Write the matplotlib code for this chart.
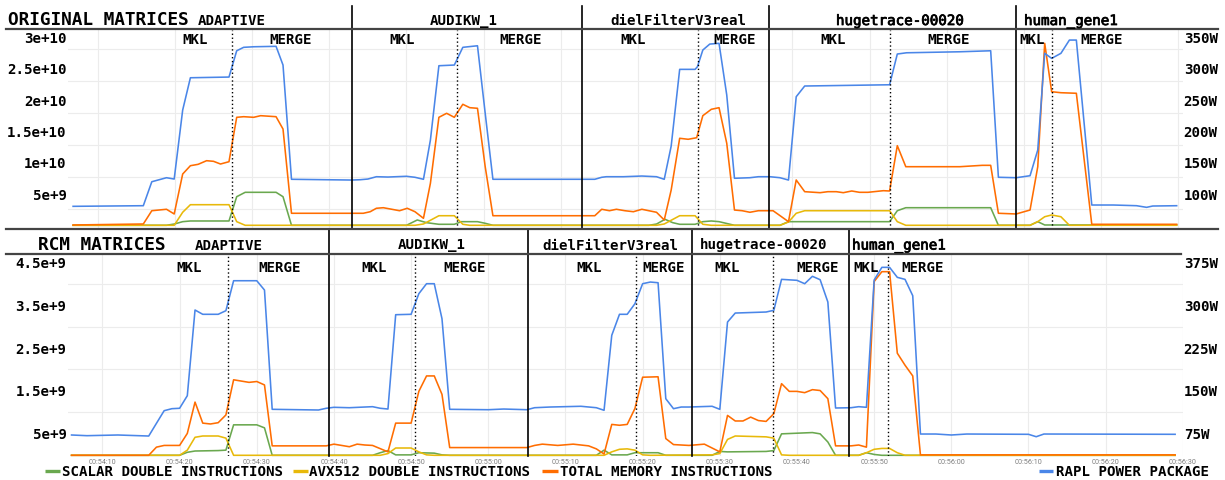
import numpy as np
import matplotlib
matplotlib.use("Agg")
import matplotlib.pyplot as plt
from matplotlib.lines import Line2D
import matplotlib.patheffects as pe

# ---------------- DATA ----------------
# time in seconds after 00:54:00 ; instruction counts in units of 1e9 ; power in W

# ORIGINAL MATRICES
top_scalar = [(6.2, 0), (18.3, 0), (19.3, 0.2), (20.4, 0.58), (21.4, 0.69), (26.4, 0.69), (27.4, 4.57),
              (28.5, 5.27), (32.5, 5.27), (33.4, 4.57), (34.5, 0), (49.4, 0), (50.8, 0.85), (52.0, 0.42),
              (53.6, 0.16), (55.6, 0.16), (56.5, 0.58), (58.6, 0.58), (59.6, 0.32), (60.6, 0), (80.8, 0),
              (81.8, 0.2), (82.9, 0.96), (83.9, 0.42), (84.8, 0.16), (86.8, 0.16), (87.8, 0.58), (88.9, 0.69),
              (89.9, 0.58), (91.9, 0), (97.8, 0), (98.9, 0.58), (112.0, 0.58), (113.0, 2.33), (114.1, 2.81),
              (125.1, 2.81), (126.1, 0), (130.2, 0), (131.2, 0.58), (132.1, 0.05), (149.2, 0.05)]
top_avx = [(6.2, 0), (19.3, 0), (20.4, 2.08), (21.4, 3.29), (26.4, 3.29), (27.4, 0.58), (28.5, 0), (50.5, 0),
           (51.6, 0.21), (53.6, 1.53), (55.6, 1.53), (56.7, 0.16), (57.6, 0), (81.8, 0), (82.8, 0.21),
           (84.8, 1.53), (86.8, 1.53), (87.8, 0.16), (88.9, 0), (97.8, 0), (98.9, 0.53), (99.9, 1.92),
           (101.0, 2.33), (112.0, 2.33), (113.0, 0.58), (114.1, 0), (130.2, 0), (131.2, 0.58), (132.1, 1.37),
           (133.0, 1.65), (134.2, 1.37), (135.3, 0), (149.2, 0)]
top_mem = [(6.2, 0.05), (15.3, 0.21), (16.4, 2.33), (18.3, 2.56), (19.3, 1.81), (20.4, 8.19), (21.4, 9.52),
           (22.4, 9.74), (23.5, 10.32), (24.4, 10.22), (25.3, 9.79), (26.4, 10.16), (27.4, 17.25), (28.3, 17.35),
           (29.6, 17.25), (30.5, 17.51), (32.5, 17.35), (33.4, 15.38), (34.5, 1.92), (43.8, 1.92), (44.7, 2.17),
           (45.5, 2.72), (46.4, 2.81), (47.5, 2.56), (48.5, 2.33), (49.5, 2.72), (50.5, 2.17), (51.6, 1.12),
           (52.5, 6.71), (53.6, 17.25), (54.6, 17.89), (55.6, 17.25), (56.7, 19.33), (57.6, 18.79), (58.6, 18.69),
           (59.6, 9.36), (60.6, 1.53), (73.8, 1.53), (74.7, 2.56), (75.7, 2.33), (76.6, 2.56), (77.7, 2.33),
           (78.8, 2.17), (79.9, 2.56), (80.8, 2.33), (81.8, 2.08), (82.8, 0.85), (83.7, 5.64), (84.8, 13.90),
           (85.9, 13.74), (87.0, 13.99), (87.8, 17.51), (88.9, 18.53), (89.9, 18.79), (90.9, 13.10), (91.9, 2.44),
           (92.9, 2.33), (93.9, 2.08), (95.0, 2.33), (96.9, 2.33), (98.9, 0.58), (99.9, 7.24), (101.0, 5.37),
           (103.0, 5.21), (104.0, 5.37), (105.1, 5.37), (106.0, 5.21), (107.1, 5.48), (108.1, 5.27),
           (109.2, 5.27), (111.2, 5.53), (112.0, 5.48), (113.0, 12.72), (114.1, 9.36), (121.1, 9.36),
           (124.0, 9.58), (125.1, 9.58), (126.1, 1.92), (128.4, 1.81), (130.2, 2.44), (131.2, 9.36),
           (132.1, 29.07), (133.0, 21.34), (134.2, 21.18), (136.2, 21.09), (138.2, 0.16), (149.2, 0.16)]
top_rapl = [(6.2, 80.3), (15.3, 81.3), (16.4, 119.6), (18.3, 126.0), (19.3, 123.9), (20.4, 234.1), (21.4, 285.7),
            (26.4, 286.8), (27.4, 328.8), (28.3, 334.3), (29.6, 335.2), (32.5, 335.9), (33.4, 306.0),
            (34.5, 123.5), (42.3, 122.3), (43.4, 122.8), (44.4, 123.9), (45.5, 127.6), (47.0, 127.1),
            (49.4, 128.3), (50.5, 126.7), (51.6, 123.5), (52.5, 186.2), (53.6, 304.9), (55.6, 306.0),
            (56.7, 334.3), (58.6, 336.8), (59.6, 228.9), (60.6, 123.5), (73.8, 123.5), (74.7, 126.7),
            (75.3, 127.6), (77.5, 127.6), (79.9, 128.7), (81.8, 127.6), (82.8, 123.5), (83.7, 176.6),
            (84.8, 299.1), (86.8, 299.1), (87.1, 303.3), (87.8, 330.0), (88.7, 339.5), (89.9, 340.7),
            (90.9, 258.1), (91.9, 125.1), (93.9, 126.0), (95.0, 127.6), (96.5, 127.6), (97.8, 126.0),
            (98.9, 122.3), (99.9, 255.4), (101.0, 272.5), (112.0, 274.5), (113.0, 323.6), (114.2, 325.6),
            (121.1, 327.2), (125.1, 328.8), (126.1, 126.7), (128.4, 126.0), (130.2, 129.2), (131.2, 170.3),
            (132.1, 324.7), (133.0, 316.7), (134.2, 324.7), (135.3, 345.9), (136.2, 345.9), (138.2, 82.4),
            (141.0, 82.4), (144.0, 81.3), (145.3, 78.7), (146.1, 80.8), (149.2, 81.3)]
top_bounds = [42.33, 72.13, 96.35, 128.35]          # matrix boundaries
top_switch = [26.79, 55.93, 87.15, 112.02, 133.01]  # MKL -> MERGE

# RCM MATRICES
bot_scalar = [(6, 0), (20, 0), (21, 0.07), (22, 0.10), (25, 0.11), (26, 0.12), (27, 0.71), (30, 0.71),
              (31, 0.64), (32, 0), (45, 0), (46, 0.06), (47, 0.11), (48, 0.01), (50, 0.01), (51, 0.06),
              (53, 0.05), (54, 0.01), (55, 0), (74, 0), (75, 0.12), (76, 0.01), (78, 0.01), (79, 0.06),
              (82, 0.06), (83, 0), (89, 0), (90, 0.09), (91, 0.08), (96, 0.09), (97, 0.11), (98, 0.50),
              (102, 0.53), (103, 0.50), (104, 0.31), (105, 0), (108, 0), (109, 0.06), (110, 0.02), (111, 0),
              (149, 0)]
bot_avx = [(6, 0), (20, 0), (21, 0.12), (22, 0.42), (23, 0.45), (25, 0.45), (26, 0.40), (27, 0), (46, 0),
           (47, 0.04), (48, 0.17), (50, 0.17), (51, 0.08), (52, 0.01), (53, 0), (75, 0), (76, 0.08),
           (77, 0.14), (78, 0.15), (79, 0.12), (80, 0.01), (81, 0), (89, 0.01), (90, 0.04), (91, 0.37),
           (92, 0.45), (96, 0.43), (97, 0.40), (98, 0.01), (99, 0), (108, 0), (109, 0.06), (110, 0.14),
           (111, 0.16), (112, 0.16), (113, 0.06), (114, 0), (149, 0)]
bot_mem = [(6, 0), (16, 0), (17, 0.19), (18, 0.23), (20, 0.23), (21, 0.51), (22, 1.24), (23, 0.75), (24, 0.73),
           (25, 0.76), (26, 0.94), (27, 1.76), (28, 1.73), (29, 1.70), (30, 1.72), (31, 1.64), (32, 0.22),
           (39, 0.22), (40, 0.26), (41, 0.23), (42, 0.20), (43, 0.26), (44, 0.24), (45, 0.23), (47, 0.08),
           (48, 0.75), (50, 0.75), (51, 1.49), (52, 1.85), (53, 1.85), (54, 1.42), (55, 0.18), (65, 0.18),
           (66, 0.23), (67, 0.26), (69, 0.23), (71, 0.26), (73, 0.22), (74, 0.15), (75, 0.03), (76, 0.72),
           (77, 0.70), (78, 0.72), (79, 1.09), (80, 1.82), (82, 1.83), (83, 0.39), (84, 0.25), (86, 0.23),
           (88, 0.26), (90, 0.08), (91, 0.93), (92, 0.80), (93, 0.80), (94, 0.89), (95, 0.81), (96, 0.79),
           (97, 0.97), (98, 1.67), (99, 1.49), (100, 1.49), (101, 1.46), (102, 1.53), (103, 1.51), (104, 1.32),
           (105, 0.22), (107, 0.22), (108, 0.24), (109, 0.19), (110, 4.05), (111, 4.28), (112, 4.28),
           (113, 2.38), (114, 2.10), (115, 1.85), (116, 0.01), (149, 0.01)]
bot_rapl = [(6, 73.0), (8, 71.8), (12, 73.0), (16, 71.2), (17, 93.4), (18, 115.5), (19, 119.0), (20, 119.7),
            (21, 141.7), (22, 291.5), (23, 284.0), (25, 284.0), (26, 290.3), (27, 342.7), (30, 342.7),
            (31, 326.4), (32, 117.9), (38, 116.7), (39, 119.7), (40, 121.4), (42, 120.7), (45, 122.5),
            (46, 119.7), (47, 118.4), (48, 283.3), (50, 284.0), (51, 320.0), (52, 337.5), (53, 337.5),
            (54, 276.3), (55, 117.9), (60, 117.2), (62, 118.4), (65, 117.2), (66, 120.7), (68, 121.9),
            (72, 123.2), (74, 120.7), (75, 116.2), (76, 247.3), (77, 284.0), (78, 284.0), (79, 302.5),
            (80, 337.5), (81, 340.4), (82, 339.2), (83, 136.4), (84, 119.0), (85, 121.9), (86, 121.9),
            (89, 123.2), (90, 117.9), (91, 270.5), (92, 286.2), (96, 288.0), (97, 291.0), (98, 345.1),
            (100, 343.4), (101, 337.5), (102, 350.4), (103, 344.5), (104, 305.5), (105, 120.2), (107, 120.7),
            (108, 122.5), (109, 121.4), (110, 343.9), (111, 366.1), (112, 366.1), (113, 348.6), (114, 345.1),
            (115, 316.5), (116, 74.7), (118, 74.7), (120, 73.0), (122, 74.7), (130, 74.2), (131, 70.0),
            (132, 74.7), (149, 74.2)]
bot_bounds = [39.35, 65.13, 86.37, 106.71]
bot_switch = [26.27, 50.49, 79.12, 96.87, 111.76]

top_left_ticks = [5, 10, 15, 20, 25, 30]
top_left_labels = ["5e+9", "1e+10", "1.5e+10", "2e+10", "2.5e+10", "3e+10"]
top_right_ticks = [100, 150, 200, 250, 300, 350]
bot_left_ticks = [0.5, 1.5, 2.5, 3.5, 4.5]
bot_left_labels = ["5e+9", "1.5e+9", "2.5e+9", "3.5e+9", "4.5e+9"]
bot_right_ticks = [75, 150, 225, 300, 375]
time_ticks = list(range(10, 151, 10))

series_names = ["SCALAR DOUBLE INSTRUCTIONS", "AVX512 DOUBLE INSTRUCTIONS",
                "TOTAL MEMORY INSTRUCTIONS", "RAPL POWER PACKAGE"]
matrices = ["ADAPTIVE", "AUDIKW_1", "dielFilterV3real", "hugetrace-00020", "human_gene1"]

# ---------------- STYLE ----------------
C_SCALAR = "#6aa84f"
C_AVX = "#e8b90a"
C_MEM = "#ff6d01"
C_RAPL = "#4a86e8"
MONO = "DejaVu Sans Mono"
FW, FH = 1225, 480

fig = plt.figure(figsize=(12.25, 4.8), dpi=100)


def fx(px):
    return px / FW


def fy(py):
    return 1 - py / FH


X0, X1 = 68, 1183
XLIM = (5.54, 150.02)


def make_axes(ytop, ybot):
    return fig.add_axes([fx(X0), fy(ybot), (X1 - X0) / FW, (ybot - ytop) / FH])


def panel(ax, scalar, avx, mem, rapl, ylim, wlim, lt, ll, rt, rl, ygrid, xgrid,
          xlabels, bounds, switch, ext):
    for ser, col in ((scalar, C_SCALAR), (avx, C_AVX), (mem, C_MEM)):
        t, v = zip(*ser)
        ax.plot(t, np.array(v) * 1e9, color=col, lw=1.15, clip_on=False)
    ax.set_xlim(*XLIM)
    ax.set_ylim(ylim[0] * 1e9, ylim[1] * 1e9)
    ax.set_yticks(np.array(lt) * 1e9)
    ax.set_yticklabels(ll, fontfamily=MONO, fontweight="bold", fontsize=10.2)
    ax.set_yticks(np.array(ygrid) * 1e9, minor=True)
    ax.set_xticks(xgrid)
    if xlabels:
        ax.set_xticklabels(xlabels, fontfamily="Roboto", fontsize=5.2, color="#808080")
    else:
        ax.set_xticklabels([])
    ax.tick_params(axis="both", which="both", length=0)
    ax.tick_params(axis="y", pad=1)
    ax.tick_params(axis="x", pad=2)
    ax.grid(which="minor", axis="y", color="#ececec", lw=0.8)
    ax.grid(which="major", axis="x", color="#ececec", lw=0.8)
    ax.grid(which="major", axis="y", visible=False)
    for s in ax.spines.values():
        s.set_visible(False)

    ax2 = ax.twinx()
    t, w = zip(*rapl)
    ax2.plot(t, w, color=C_RAPL, lw=1.15, clip_on=False)
    ax2.set_xlim(*XLIM)
    ax2.set_ylim(*wlim)
    ax2.set_yticks(rt)
    ax2.set_yticklabels(rl, fontfamily=MONO, fontweight="bold", fontsize=10.2)
    ax2.tick_params(axis="y", length=0, pad=0.5)
    for s in ax2.spines.values():
        s.set_visible(False)
    for b in bounds:
        ax2.axvline(b, ymin=0, ymax=ext, color="black", lw=1.2, clip_on=False, zorder=5)
    for s_ in switch:
        ax2.axvline(s_, ymin=0, ymax=1, color="black", lw=1.0, ls=(0, (1, 1.8)), zorder=5)
    return ax2


ax_top = make_axes(30, 229)
ax_bot = make_axes(254.3, 456)

time_labels = ["00:%02d:%02d" % (54 + t // 60, t % 60) for t in time_ticks]

panel(ax_top, top_scalar, top_avx, top_mem, top_rapl, (-0.591, 31.198), (44.09, 361.98),
      top_left_ticks, top_left_labels, top_right_ticks, ["%dW" % w for w in top_right_ticks],
      [2.56, 7.67, 12.8, 17.9, 23.0, 28.2], [t - 0.6 for t in time_ticks], None,
      top_bounds, top_switch, (229 - 6) / 199)
panel(ax_bot, bot_scalar, bot_avx, bot_mem, bot_rapl, (-0.0163, 4.685), (36.28, 388.9),
      bot_left_ticks, bot_left_labels, bot_right_ticks, ["%dW" % w for w in bot_right_ticks],
      [1, 2, 3, 4], time_ticks, time_labels,
      bot_bounds, bot_switch, (456 - 230) / 201.7)

# header / frame lines
for (xa, xb, y) in ((6, 1218, 29.3), (6, 1218, 229.3), (6, 1181, 254.3)):
    fig.add_artist(Line2D([fx(xa), fx(xb)], [fy(y), fy(y)], color="#444444", lw=1.6))

SEMI = [pe.withStroke(linewidth=0.55, foreground="black")]


def txt(x, y, s, size=10.2, weight="bold", ha="left"):
    if weight == "semi":
        fig.text(fx(x), fy(y), s, fontfamily=MONO, fontweight="normal", fontsize=size,
                 ha=ha, va="baseline", color="black", path_effects=SEMI)
    else:
        fig.text(fx(x), fy(y), s, fontfamily=MONO, fontweight=weight, fontsize=size,
                 ha=ha, va="baseline", color="black")


# titles and matrix names
txt(8, 25, "ORIGINAL MATRICES", size=12.8)
txt(198, 25, matrices[0])
txt(463.5, 25, matrices[1], ha="center")
txt(678, 25, matrices[2], ha="center")
txt(899.7, 25, matrices[3], ha="center", weight="semi")
txt(1024, 25, matrices[4], weight="semi")

txt(38, 250, "RCM MATRICES", size=12.8)
txt(195, 249.5, matrices[0])
txt(431.5, 249.5, matrices[1], ha="center")
txt(610, 249.5, matrices[2], ha="center")
txt(764, 249.5, matrices[3], ha="center")
txt(852, 249.5, matrices[4], weight="semi")

# phase labels
for x in (195.5, 401.7, 633.3, 832.8, 1032):
    txt(x, 44.3, "MKL", ha="center")
for x in (291, 520.5, 734.7, 948.8, 1101.7):
    txt(x, 44.3, "MERGE", ha="center")
for x in (189.2, 373.8, 589.3, 726.7, 866.2):
    txt(x, 272.3, "MKL", ha="center")
for x in (279.2, 464.8, 664.1, 817.7, 922.2):
    txt(x, 272.3, "MERGE", ha="center")

# legend
for (xa, xb, xt), col, name in zip(((45, 60, 62.3), (293, 308, 309.3), (542.4, 558, 559.6), (1039.3, 1053.3, 1056)),
                                    (C_SCALAR, C_AVX, C_MEM, C_RAPL), series_names):
    fig.add_artist(Line2D([fx(xa), fx(xb)], [fy(470.8), fy(470.8)], color=col, lw=2.4, solid_capstyle="butt"))
    txt(xt, 476.5, name)

fig.savefig("out.png", dpi=100)
